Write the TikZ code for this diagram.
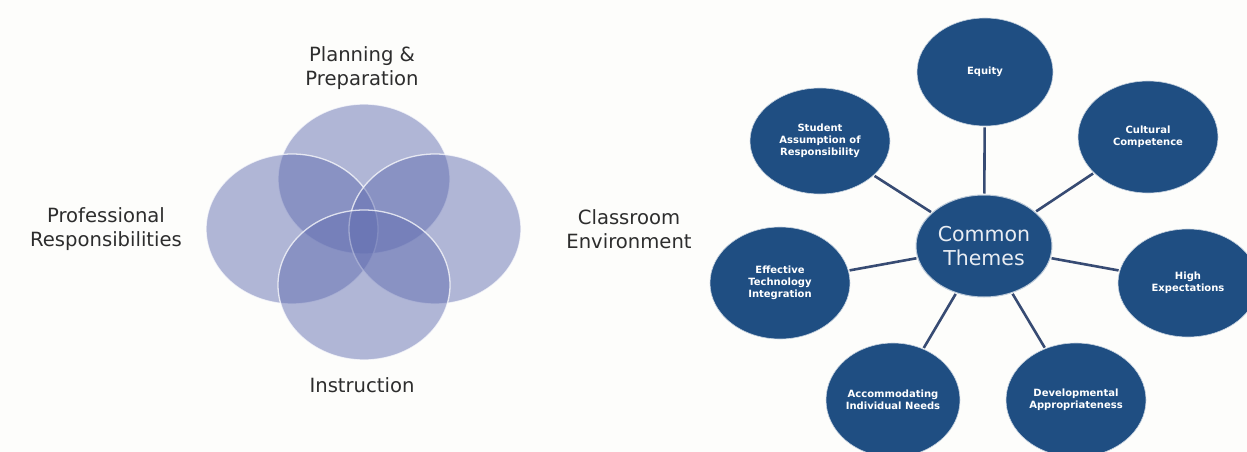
\documentclass[tikz,border=0pt]{standalone}
\usepackage{fontspec}
\setmainfont{DejaVu Sans}
\usetikzlibrary{shapes.geometric}
\definecolor{venn}{RGB}{100,112,178}
\definecolor{navy}{RGB}{31,78,130}
\definecolor{conn}{RGB}{55,75,115}
\definecolor{txt}{RGB}{45,45,45}
\definecolor{bg}{RGB}{253,253,251}
\begin{document}
\begin{tikzpicture}[x=1pt,y=-1pt,
  vc/.style={ellipse, minimum width=172pt, minimum height=150pt, inner sep=0pt,
             fill=venn, fill opacity=0.5, draw=white, draw opacity=0.75, line width=1.3pt},
  lbl/.style={text=txt, align=center, inner sep=0pt, font=\fontsize{19.6}{24}\selectfont},
  ob/.style={ellipse, fill=navy, draw=white!75!navy, line width=0.6pt, inner sep=0pt,
             minimum width=140pt, minimum height=110pt, text=white, align=center,
             font=\bfseries\fontsize{10}{12}\selectfont},
  hub/.style={ellipse, fill=navy, draw=white!70!navy, line width=1pt, inner sep=0pt,
             minimum width=136pt, minimum height=102pt, text=white!90!navy, align=center,
             font=\fontsize{20.5}{23.5}\selectfont},
  link/.style={draw=conn, line width=2.6pt, shorten <=1pt, shorten >=1pt}]
\fill[bg] (0,0) rectangle (1247,452);
\useasboundingbox (0,0) rectangle (1247,452);
% ---- Venn ----
\node[vc] (vtop) at (364,179) {};
\node[vc] (vleft) at (292,229) {};
\node[vc] (vright) at (435,229) {};
\node[vc] (vbot) at (364,285) {};
\node[lbl] (plan) at (362,68) {Planning \&\\Preparation};
\node[lbl] (prof) at (106,229) {Professional\\Responsibilities};
\node[lbl] (class) at (629,229) {Classroom\\Environment};
\node[lbl] (instr) at (362,385) {Instruction};
% ---- Common themes ----
\node[hub] (hub) at (984,246) {Common\\Themes};
\node[ob, minimum width=136pt, minimum height=108pt] (eq) at (985,72) {Equity};
\node[ob, minimum height=112pt] (cc) at (1148,137) {Cultural\\Competence};
\node[ob, minimum height=108pt] (he) at (1188,283) {High\\Expectations};
\node[ob, minimum height=114pt] (dev) at (1076,400) {Developmental\\Appropriateness};
\node[ob, minimum width=134pt, minimum height=114pt] (acc) at (893,400) {Accommodating\\Individual Needs};
\node[ob, minimum height=112pt] (eti) at (780,283) {Effective\\Technology\\Integration};
\node[ob, minimum height=106pt] (sar) at (820,141) {Student\\Assumption of\\Responsibility};
\foreach \n in {eq,cc,he,dev,acc,eti,sar}
  \draw[link] (hub) -- (\n);
\end{tikzpicture}
\end{document}
